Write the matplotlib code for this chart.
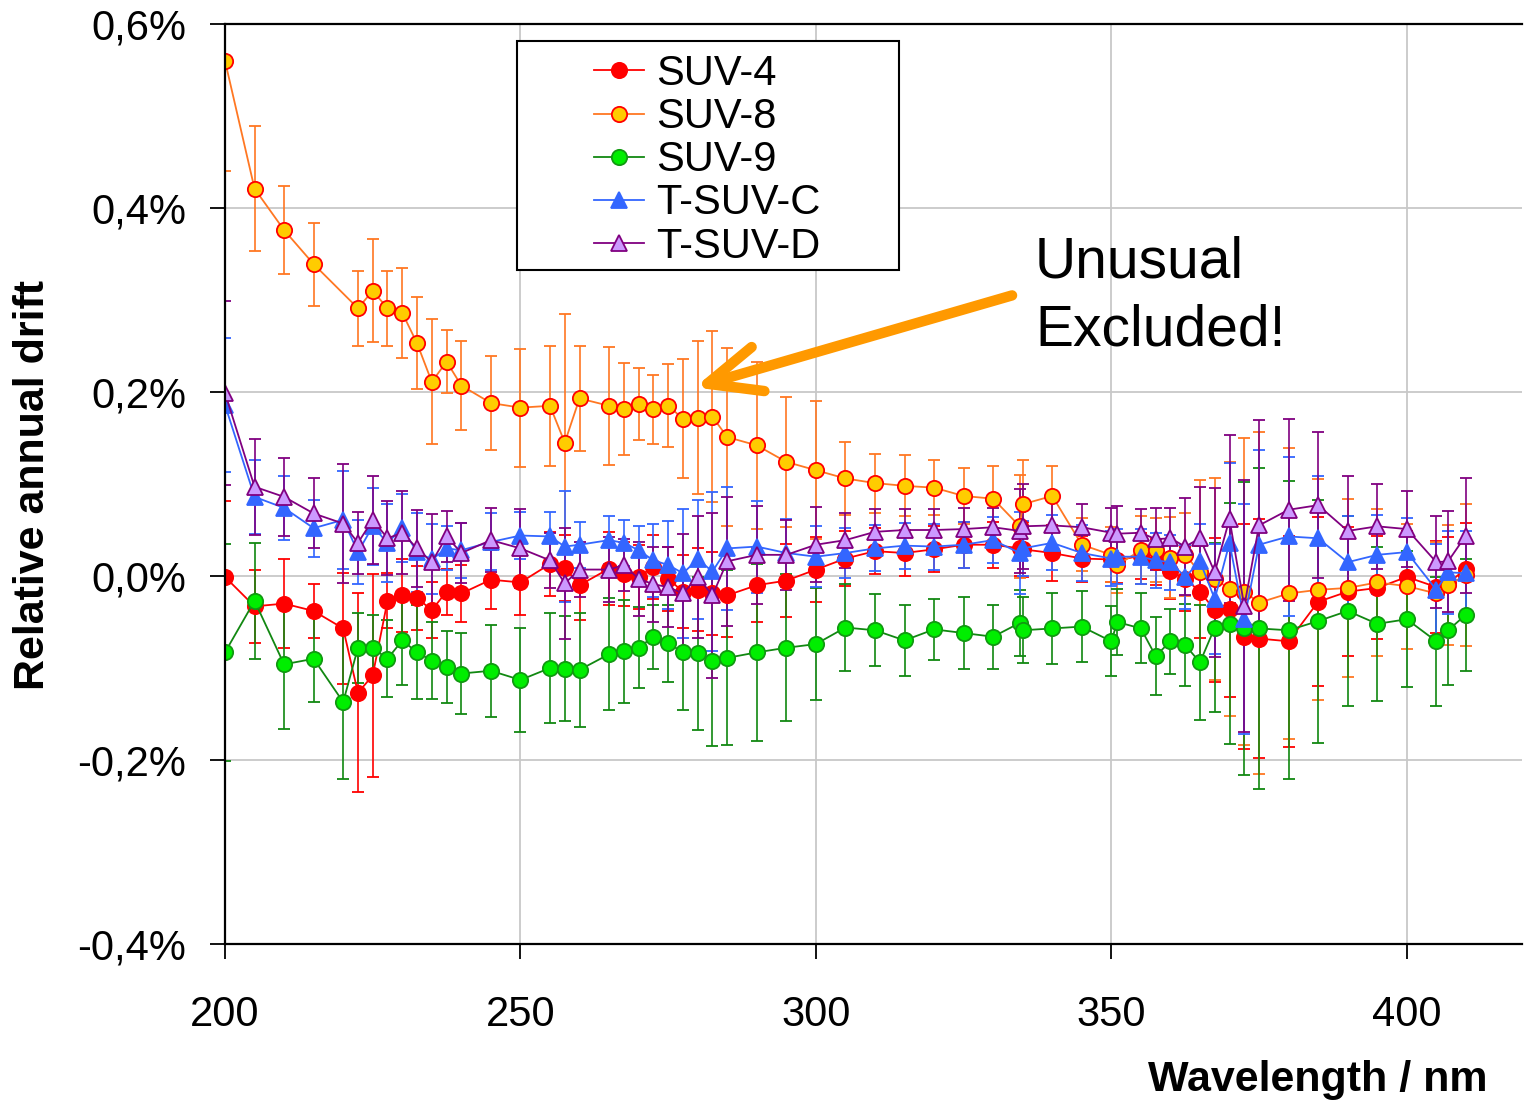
import numpy as np
import matplotlib
matplotlib.use('Agg')
import matplotlib.pyplot as plt
from matplotlib.ticker import FuncFormatter
from matplotlib.patches import Rectangle

plt.rcParams['font.family'] = ['Liberation Sans', 'DejaVu Sans']

# ---------------- data (relative annual drift in %) ----------------
wavelength = [200, 205, 210, 215, 220, 222.5, 225, 227.5, 230, 232.5,
              235, 237.5, 240, 245, 250, 255, 257.5, 260, 265, 267.5,
              270, 272.5, 275, 277.5, 280, 282.5, 285, 290, 295, 300,
              305, 310, 315, 320, 325, 330, 334.5, 335, 340, 345,
              350, 351, 355, 357.5, 360, 362.5, 365, 367.5, 370, 372.5,
              375, 380, 385, 390, 395, 400, 405, 407, 410]

wavelength_suv8 = [200, 205, 210, 215, 222.5, 225, 227.5, 230, 232.5,
                   235, 237.5, 240, 245, 250, 255, 257.5, 260, 265, 267.5,
                   270, 272.5, 275, 277.5, 280, 282.5, 285, 290, 295, 300,
                   305, 310, 315, 320, 325, 330, 334.5, 335, 340, 345,
                   350, 351, 355, 357.5, 360, 362.5, 365, 367.5, 370, 372.5,
                   375, 380, 385, 390, 395, 400, 405, 407, 410]

suv4 = [-0.001, -0.033, -0.030, -0.038, -0.057, -0.127, -0.108, -0.027, -0.021, -0.024,
        -0.037, -0.017, -0.019, -0.004, -0.007, 0.013, 0.009, -0.010, 0.008, 0.002,
        -0.001, 0.010, -0.003, -0.017, -0.015, -0.019, -0.021, -0.010, -0.005, 0.007,
        0.019, 0.027, 0.025, 0.029, 0.034, 0.034, 0.030, 0.029, 0.025, 0.019,
        0.018, 0.017, 0.022, 0.015, 0.005, -0.003, -0.017, -0.037, -0.036, -0.066,
        -0.068, -0.071, -0.028, -0.017, -0.013, -0.001, -0.012, -0.008, 0.008]
suv4_err = [0.083, 0.040, 0.048, 0.029, 0.060, 0.108, 0.110, 0.030, 0.040, 0.035,
            0.030, 0.025, 0.031, 0.032, 0.035, 0.035, 0.036, 0.038, 0.040, 0.035,
            0.035, 0.035, 0.035, 0.040, 0.045, 0.045, 0.045, 0.040, 0.040, 0.035,
            0.030, 0.025, 0.025, 0.025, 0.025, 0.025, 0.030, 0.030, 0.030, 0.025,
            0.025, 0.025, 0.025, 0.025, 0.030, 0.035, 0.050, 0.078, 0.095, 0.122,
            0.130, 0.115, 0.092, 0.070, 0.056, 0.050, 0.050, 0.050, 0.050]

suv8 = [0.560, 0.421, 0.376, 0.339, 0.291, 0.310, 0.291, 0.286, 0.253,
        0.211, 0.233, 0.207, 0.188, 0.183, 0.185, 0.145, 0.193, 0.185, 0.182,
        0.187, 0.181, 0.185, 0.171, 0.172, 0.173, 0.151, 0.142, 0.124, 0.115,
        0.106, 0.101, 0.098, 0.096, 0.087, 0.084, 0.054, 0.078, 0.087, 0.034,
        0.023, 0.012, 0.028, 0.028, 0.020, 0.023, 0.004, -0.003, -0.014, -0.017,
        -0.029, -0.019, -0.015, -0.013, -0.007, -0.011, -0.019, -0.010, 0.001]
suv8_err = [0.120, 0.068, 0.048, 0.045, 0.041, 0.056, 0.041, 0.049, 0.050,
            0.068, 0.034, 0.048, 0.051, 0.064, 0.065, 0.140, 0.057, 0.064, 0.050,
            0.039, 0.037, 0.045, 0.065, 0.083, 0.093, 0.097, 0.091, 0.071, 0.075,
            0.040, 0.032, 0.033, 0.030, 0.030, 0.036, 0.056, 0.048, 0.033, 0.029,
            0.030, 0.030, 0.037, 0.035, 0.044, 0.045, 0.100, 0.110, 0.138, 0.167,
            0.186, 0.158, 0.120, 0.097, 0.080, 0.068, 0.056, 0.065, 0.077]

suv9 = [-0.083, -0.027, -0.096, -0.090, -0.137, -0.078, -0.078, -0.090, -0.070, -0.083,
        -0.092, -0.099, -0.106, -0.103, -0.113, -0.100, -0.101, -0.102, -0.085, -0.082,
        -0.078, -0.066, -0.073, -0.083, -0.084, -0.092, -0.089, -0.083, -0.078, -0.074,
        -0.056, -0.059, -0.070, -0.058, -0.062, -0.066, -0.051, -0.059, -0.057, -0.055,
        -0.071, -0.050, -0.057, -0.087, -0.071, -0.075, -0.094, -0.056, -0.052, -0.057,
        -0.057, -0.059, -0.049, -0.038, -0.052, -0.047, -0.071, -0.059, -0.042]
suv9_err = [0.118, 0.063, 0.070, 0.047, 0.084, 0.038, 0.036, 0.042, 0.049, 0.051,
            0.042, 0.039, 0.044, 0.050, 0.057, 0.060, 0.057, 0.062, 0.061, 0.056,
            0.044, 0.035, 0.042, 0.063, 0.083, 0.093, 0.095, 0.096, 0.080, 0.061,
            0.047, 0.039, 0.039, 0.033, 0.039, 0.035, 0.036, 0.036, 0.039, 0.039,
            0.038, 0.036, 0.038, 0.042, 0.035, 0.045, 0.063, 0.092, 0.131, 0.159,
            0.174, 0.162, 0.132, 0.103, 0.084, 0.074, 0.070, 0.060, 0.061]

tsuvc = [0.186, 0.086, 0.074, 0.052, 0.061, 0.026, 0.054, 0.036, 0.052, 0.026,
         0.018, 0.030, 0.028, 0.037, 0.044, 0.043, 0.032, 0.034, 0.039, 0.036,
         0.028, 0.017, 0.012, 0.003, 0.018, 0.005, 0.030, 0.032, 0.025, 0.021,
         0.025, 0.030, 0.033, 0.032, 0.034, 0.039, 0.025, 0.030, 0.036, 0.025,
         0.019, 0.021, 0.021, 0.017, 0.015, -0.001, 0.016, -0.025, 0.036, -0.047,
         0.034, 0.043, 0.041, 0.015, 0.023, 0.026, -0.015, 0.004, 0.003]
tsuvc_err = [0.073, 0.040, 0.035, 0.031, 0.053, 0.035, 0.042, 0.042, 0.037, 0.043,
             0.038, 0.024, 0.030, 0.031, 0.026, 0.027, 0.060, 0.025, 0.026, 0.025,
             0.026, 0.040, 0.048, 0.070, 0.065, 0.086, 0.067, 0.050, 0.037, 0.033,
             0.027, 0.025, 0.025, 0.025, 0.025, 0.025, 0.045, 0.030, 0.030, 0.030,
             0.030, 0.030, 0.030, 0.030, 0.030, 0.035, 0.040, 0.060, 0.087, 0.125,
             0.103, 0.086, 0.068, 0.050, 0.043, 0.037, 0.050, 0.045, 0.046]

tsuvd = [0.199, 0.097, 0.086, 0.068, 0.057, 0.036, 0.061, 0.041, 0.047, 0.030,
         0.015, 0.043, 0.025, 0.039, 0.030, 0.017, -0.008, 0.007, 0.007, 0.012,
         -0.003, -0.009, -0.012, -0.019, -0.001, -0.021, 0.016, 0.023, 0.023, 0.034,
         0.039, 0.048, 0.050, 0.050, 0.051, 0.053, 0.049, 0.054, 0.055, 0.053,
         0.047, 0.046, 0.047, 0.040, 0.041, 0.032, 0.041, 0.004, 0.062, -0.033,
         0.055, 0.072, 0.077, 0.049, 0.054, 0.051, 0.015, 0.016, 0.044]
tsuvd_err = [0.100, 0.052, 0.042, 0.038, 0.065, 0.034, 0.048, 0.040, 0.045, 0.042,
             0.052, 0.028, 0.033, 0.035, 0.043, 0.030, 0.060, 0.030, 0.035, 0.028,
             0.040, 0.041, 0.043, 0.065, 0.066, 0.090, 0.070, 0.053, 0.038, 0.041,
             0.030, 0.025, 0.023, 0.023, 0.023, 0.021, 0.046, 0.046, 0.030, 0.025,
             0.027, 0.030, 0.026, 0.034, 0.033, 0.053, 0.056, 0.092, 0.091, 0.137,
             0.115, 0.099, 0.079, 0.060, 0.046, 0.041, 0.050, 0.055, 0.062]

series_names = ['SUV-4', 'SUV-8', 'SUV-9', 'T-SUV-C', 'T-SUV-D']
x_ticks = [200, 250, 300, 350, 400]
y_ticks = [-0.4, -0.2, 0.0, 0.2, 0.4, 0.6]

# ---------------- figure ----------------
W, H = 1524, 1102
fig = plt.figure(figsize=(W / 100, H / 100), dpi=100)
L, R, T, B = 225, 1522, 24, 944
ax = fig.add_axes([L / W, 1 - B / H, (R - L) / W, (B - T) / H])

styles = [
    dict(color='#FF0000', marker='o', mfc='#FF0000', mec='#FF0000', ms=11),
    dict(color='#FF7722', marker='o', mfc='#FFCC00', mec='#FF0000', ms=11),
    dict(color='#118811', marker='o', mfc='#00EE00', mec='#119911', ms=11),
    dict(color='#3366FF', marker='^', mfc='#3366FF', mec='#3366FF', ms=12),
    dict(color='#800080', marker='^', mfc='#CC99FF', mec='#800080', ms=12),
]
data = [
    (wavelength, suv4, suv4_err),
    (wavelength_suv8, suv8, suv8_err),
    (wavelength, suv9, suv9_err),
    (wavelength, tsuvc, tsuvc_err),
    (wavelength, tsuvd, tsuvd_err),
]

handles = []
for name, (xs, ys, es), st in zip(series_names, data, styles):
    c = ax.errorbar(xs, ys, yerr=es, color=st['color'], lw=1.3,
                    marker=st['marker'], ms=st['ms'], mfc=st['mfc'], mec=st['mec'],
                    mew=1.3, elinewidth=1.2, ecolor=st['color'], capsize=4.5,
                    capthick=1.2, label=name)
    handles.append(c[0])

ax.set_xlim(200, 419.5)
ax.set_ylim(-0.4, 0.6)
ax.set_xticks(x_ticks)
ax.set_yticks(y_ticks)


def pct(v, pos):
    if abs(v) < 1e-9:
        v = 0.0
    return ('%.1f' % v).replace('.', ',') + '%'


ax.yaxis.set_major_formatter(FuncFormatter(pct))
ax.grid(True, color='#C8C8C8', lw=1.3)
ax.set_axisbelow(True)
for s in ['left', 'bottom', 'top']:
    ax.spines[s].set_color('black')
    ax.spines[s].set_linewidth(1.6)
ax.spines['right'].set_visible(False)
ax.tick_params(axis='y', direction='out', length=11, width=1.3, pad=17, labelsize=30)
ax.tick_params(axis='x', direction='out', length=11, width=1.3, pad=26, labelsize=30)

# axis titles
fig.text(33 / W, 1 - 485 / H, 'Relative annual drift', rotation=90, ha='center',
         va='center', fontsize=31, fontweight='bold')
fig.text(1488 / W, 1 - 1080 / H, 'Wavelength / nm', ha='right', va='center',
         fontsize=31, fontweight='bold')

# legend frame + legend
fx0, fx1 = (517 - L) / (R - L), (899 - L) / (R - L)
fy1, fy0 = (B - 41) / (B - T), (B - 270) / (B - T)
ax.add_patch(Rectangle((fx0, fy0), fx1 - fx0, fy1 - fy0, transform=ax.transAxes,
                       fill=True, facecolor='white', edgecolor='black', lw=1.5,
                       zorder=5))
leg = ax.legend(handles=handles, labels=series_names, loc='upper left',
                bbox_to_anchor=((594 - L) / (R - L), (B - 54) / (B - T)),
                frameon=False, fontsize=30, handlelength=1.2, handletextpad=0.3,
                labelspacing=0.075, borderpad=0, borderaxespad=0)
leg.set_zorder(6)

# annotation
arrow_tail = (333.2, 0.305)
arrow_head = (279.5, 0.205)
ax.annotate('', xy=arrow_head, xytext=arrow_tail,
            arrowprops=dict(arrowstyle='->,head_length=3.8,head_width=1.65',
                            color='#FF9900', lw=7.5, shrinkA=0, shrinkB=0,
                            capstyle='round'), zorder=7)
fig.text(1035 / W, 1 - 262 / H, 'Unusual', ha='left', va='center', fontsize=41)
fig.text(1035 / W, 1 - 330 / H, 'Excluded!', ha='left', va='center', fontsize=41)

fig.savefig('out.png', dpi=100)
